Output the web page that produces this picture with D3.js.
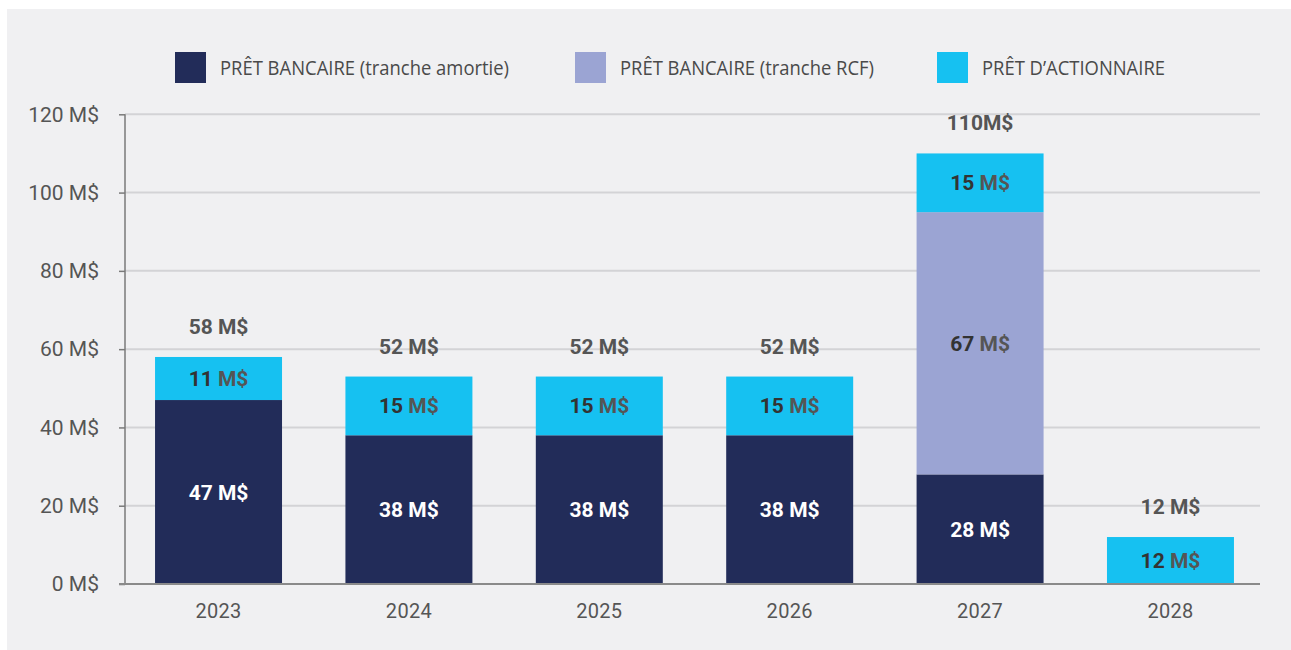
<!DOCTYPE html>
<html><head><meta charset="utf-8">
<script src="https://cdn.jsdelivr.net/npm/d3@7"></script>
<style>html,body{margin:0;padding:0;background:#fff;}svg{display:block;}</style>
</head><body>
<svg id="chart" width="1291" height="650"></svg>
<script>
const years = ["2023","2024","2025","2026","2027","2028"];
const amortie = [47, 38, 38, 38, 28, 0];
const rcf = [0, 0, 0, 0, 67, 0];
const actionnaire = [11, 15, 15, 15, 15, 12];
const totalLabels = ["58 M$","52 M$","52 M$","52 M$","110M$","12 M$"];
const yTicks = [0, 20, 40, 60, 80, 100, 120];
const seriesNames = ["PRÊT BANCAIRE (tranche amortie)", "PRÊT BANCAIRE (tranche RCF)", "PRÊT D\u2019ACTIONNAIRE"];
const seriesKeys = ["amortie","rcf","actionnaire"];
const colors = {amortie:"#222c59", rcf:"#9ba4d3", actionnaire:"#16c1f1"};

const svg = d3.select("#chart");
svg.append("rect").attr("x",7).attr("y",9).attr("width",1284).attr("height",641).attr("fill","#f0f0f2");

const y = d3.scaleLinear().domain([0,120]).range([584, 114.3]);
const x = d3.scaleBand().domain(years).range([123.3, 1265.7]).paddingInner(0.333).paddingOuter(0.1667);

// gridlines
svg.append("g").selectAll("line").data(yTicks.filter(d=>d>0)).join("line")
  .attr("x1",125).attr("x2",1260).attr("y1",d=>y(d)).attr("y2",d=>y(d))
  .attr("stroke","#d3d3d6").attr("stroke-width",2);

// y axis
const yAxis = d3.axisLeft(y).tickValues(yTicks).tickSize(6).tickPadding(20).tickFormat(d=>d+" M$");
const gy = svg.append("g").attr("transform","translate(125,0)").call(yAxis);
gy.select(".domain").remove();
gy.selectAll(".tick line").attr("stroke","#7a7a7a").attr("stroke-width",1.5);
gy.selectAll(".tick text").attr("font-family","Roboto, sans-serif").attr("font-size",21).attr("fill","#555");
svg.append("line").attr("x1",125).attr("x2",125).attr("y1",y(120)).attr("y2",y(0)).attr("stroke","#7a7a7a").attr("stroke-width",1.5);

// stacked bars
const table = years.map((yr,i)=>({year:yr, amortie:amortie[i], rcf:rcf[i], actionnaire:actionnaire[i]}));
const stack = d3.stack().keys(seriesKeys)(table);
const layers = svg.append("g").selectAll("g").data(stack).join("g").attr("fill",d=>colors[d.key]);
layers.selectAll("rect").data(d=>d.filter(s=>s[1]-s[0]>0)).join("rect")
  .attr("x",d=>x(d.data.year)).attr("width",x.bandwidth())
  .attr("y",d=>y(d[1])).attr("height",d=>y(d[0])-y(d[1]));

// x axis line
svg.append("line").attr("x1",119).attr("x2",1260).attr("y1",y(0)).attr("y2",y(0)).attr("stroke","#8a8a8a").attr("stroke-width",2);

// x labels
const xAxis = d3.axisBottom(x).tickSize(0).tickPadding(0);
const gx = svg.append("g").attr("transform","translate(0,"+y(0)+")").call(xAxis);
gx.select(".domain").remove();
gx.selectAll(".tick text").attr("font-family","Roboto, sans-serif").attr("font-size",20).attr("fill","#555")
  .attr("dy",null).attr("y",34).attr("letter-spacing","0.3px");

// segment labels
const segLabels = svg.append("g");
stack.forEach(layer=>{
  layer.forEach(s=>{
    const v = s[1]-s[0];
    if (v<=0) return;
    const cx = x(s.data.year)+x.bandwidth()/2;
    const cy = (y(s[0])+y(s[1]))/2;
    const onDark = layer.key==="amortie";
    const t = segLabels.append("text").attr("x",cx).attr("y",cy).attr("dy","0.36em")
      .attr("text-anchor","middle").attr("font-family","Roboto, sans-serif").attr("font-weight","bold").attr("font-size",21);
    t.append("tspan").text(v+" ").attr("fill",onDark?"#fff":"#333");
    t.append("tspan").text("M$").attr("fill",onDark?"#fff":"#555");
  });
});

// totals
svg.append("g").selectAll("text").data(table).join("text")
  .attr("x",d=>x(d.year)+x.bandwidth()/2)
  .attr("y",d=>y(d.amortie+d.rcf+d.actionnaire)-23)
  .attr("text-anchor","middle").attr("font-family","Roboto, sans-serif").attr("font-weight","bold").attr("font-size",21)
  .attr("fill","#555").text((d,i)=>totalLabels[i]);

// legend
const legX = [175, 575, 937];
const legW = [289, 254, 183];
const lg = svg.append("g");
seriesKeys.forEach((k,i)=>{
  lg.append("rect").attr("x",legX[i]).attr("y",52).attr("width",31).attr("height",31).attr("fill",colors[k]);
  lg.append("text").attr("x",legX[i]+45).attr("y",75).attr("font-family","'Open Sans', sans-serif").attr("font-size",20)
    .attr("fill","#4a4a4a").attr("textLength",legW[i]).attr("lengthAdjust","spacingAndGlyphs").text(seriesNames[i]);
});
</script>
</body></html>
